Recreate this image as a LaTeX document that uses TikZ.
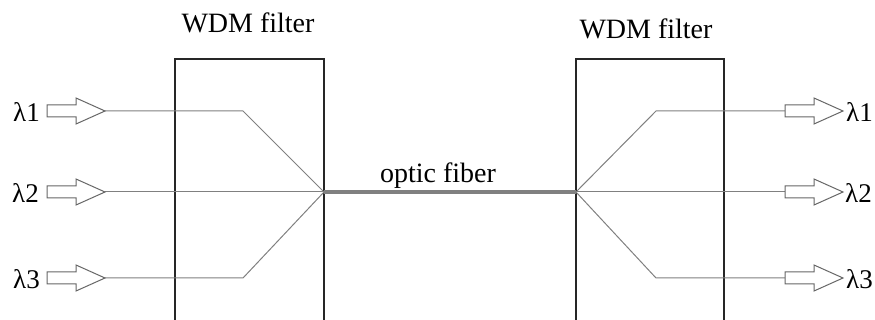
\documentclass[tikz,border=0pt]{standalone}
\usepackage{fontspec}
\setmainfont{Liberation Serif}
\begin{document}
\begin{tikzpicture}[x=1pt,y=-1pt,
  sig/.style={draw=black!50, line width=1pt},
  fiber/.style={draw=black!50, line width=4pt},
  filterbox/.style={draw=black!85, line width=1.4pt},
  lbl/.style={font=\fontsize{28}{30}\selectfont, inner sep=0pt},
  lam/.style={font=\fontsize{27}{29}\selectfont, inner sep=0pt},
  pics/hollowarrow/.style={code={
    \draw[draw=black!60, line width=1pt, fill=white]
      (0,-6) -- (29,-6) -- (29,-13) -- (58,0) -- (29,13) -- (29,6) -- (0,6) -- cycle;
  }}]
\useasboundingbox (0,0) rectangle (875,320);
% filter boxes
\draw[filterbox] (175,322) -- (175,59) -- (324,59) -- (324,322);
\draw[filterbox] (576,322) -- (576,59) -- (724,59) -- (724,322);
\node[lbl, anchor=base] (wl) at (248,33) {WDM filter};
\node[lbl, anchor=base] (wr) at (646,39) {WDM filter};
% junction coordinates
\coordinate (jl) at (324,192);
\coordinate (jr) at (576,192);
\coordinate (a1) at (105,111);
\coordinate (a2) at (105,192);
\coordinate (a3) at (105,278);
\coordinate (bl1) at (243,111);
\coordinate (bl3) at (243,278);
\coordinate (br1) at (656,111);
\coordinate (br3) at (656,278);
\coordinate (c1) at (785,111);
\coordinate (c2) at (785,192);
\coordinate (c3) at (785,278);
% signal lines
\draw[sig] (a1) -- (bl1) -- (jl);
\draw[sig] (a2) -- (jl);
\draw[sig] (a3) -- (bl3) -- (jl);
\draw[sig] (jr) -- (br1) -- (c1);
\draw[sig] (jr) -- (c2);
\draw[sig] (jr) -- (br3) -- (c3);
% fiber
\draw[fiber] (jl) -- (jr);
\node[lbl, anchor=base] (of) at (438,183) {optic fiber};
% arrows
\pic at (47,111) {hollowarrow};
\pic at (47,192) {hollowarrow};
\pic at (47,278) {hollowarrow};
\pic at (785,111) {hollowarrow};
\pic at (785,192) {hollowarrow};
\pic at (785,278) {hollowarrow};
% lambda labels
\node[lam, anchor=east] (l1) at (40,112) {λ1};
\node[lam, anchor=east] (l2) at (39,193) {λ2};
\node[lam, anchor=east] (l3) at (40,279) {λ3};
\node[lam, anchor=west] (r1) at (846,112) {λ1};
\node[lam, anchor=west] (r2) at (845,193) {λ2};
\node[lam, anchor=west] (r3) at (846,279) {λ3};
\end{tikzpicture}
\end{document}
